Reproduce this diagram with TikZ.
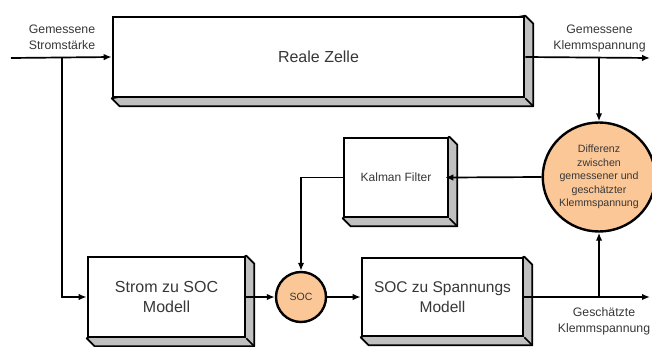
\documentclass[tikz,border=0pt]{standalone}
\usepackage{fontspec}
\setmainfont{Liberation Sans}
\usetikzlibrary{arrows.meta,backgrounds,calc,shapes.geometric}

\definecolor{socorange}{RGB}{251,199,150}
\definecolor{sidegray}{RGB}{192,192,192}
\definecolor{txtgray}{RGB}{55,55,55}

% grey extrusion below and to the right of a block
\newcommand\blockdepth[1]{%
  \filldraw[sidegray,draw=black,line width=1.8pt,line join=round]
    (#1.north east) -- ++(8,8) -- ($(#1.south east)+(8,8)$)
    -- ($(#1.south west)+(8,8)$) -- (#1.south west) -- cycle;
  \draw[line width=1.5pt] (#1.south east) -- ++(8,8);
}

\tikzset{
  blockbox/.style={draw, line width=2.6pt, fill=white, inner sep=0pt,
    align=center, text=txtgray},
  roundnode/.style={draw, line width=2.4pt, fill=socorange, inner sep=0pt,
    align=center, text=txtgray},
  flow/.style={line width=1.7pt, -{Latex[length=8pt,width=6.5pt]}},
  sigtext/.style={align=center, text=txtgray, inner sep=0pt,
    font=\fontsize{12.3}{16}\selectfont},
}

\begin{document}
\begin{tikzpicture}[x=1pt,y=-1pt]
\useasboundingbox (0,0) rectangle (652,347);

% blocks
\node[blockbox, minimum width=411pt, minimum height=80pt,
      font=\fontsize{16}{20}\selectfont] (zelle) at (318.5,57) {Reale Zelle};
\node[blockbox, minimum width=157pt, minimum height=80pt,
      font=\fontsize{16}{20}\selectfont] (strom) at (166.5,297) {Strom zu SOC\\Modell};
\node[blockbox, minimum width=161pt, minimum height=78pt,
      font=\fontsize{15.5}{20}\selectfont] (spann) at (442.5,297) {SOC zu Spannungs\\Modell};
\node[blockbox, minimum width=104pt, minimum height=79pt,
      font=\fontsize{12}{15}\selectfont] (kalman) at (396,177.5) {Kalman Filter};

% round nodes
\node[roundnode, circle, minimum size=50pt,
      font=\fontsize{10.5}{13}\selectfont] (soc) at (301,297) {SOC};
\node[roundnode, ellipse, minimum width=100pt, minimum height=109pt,
      font=\fontsize{10.6}{13.6}\selectfont] (diff) at (599,177)
      {Differenz\\zwischen\\gemessener und\\geschätzter\\Klemmspannung};

\begin{scope}[on background layer]
  \blockdepth{zelle}
  \blockdepth{strom}
  \blockdepth{spann}
  \blockdepth{kalman}
\end{scope}

% free ends and branch points
\coordinate (in)   at (11,58);
\coordinate (brin) at (62,58);
\coordinate (out1) at (650,58);
\coordinate (brm)  at (599,58);
\coordinate (out2) at (650,297);
\coordinate (bre)  at (599,297);

% connectors
\draw[flow] (in) -- (zelle.west);
\draw[flow] (brin) |- (strom.west);
\draw[flow] (zelle.east) -- (out1);
\draw[flow] (brm) -- (diff.north);
\draw[flow] (strom.east) -- (soc.west);
\draw[flow] (soc.east) -- (spann.west);
\draw[flow] (spann.east) -- (out2);
\draw[flow] (bre) -- (diff.south);
\draw[flow, shorten >=-4pt] (diff.west) -- (kalman.east);
\draw[flow] (kalman.west) -| (soc.north);

% signal labels
\node[sigtext] (lblin)  at (62,37)    {Gemessene\\Stromstärke};
\node[sigtext] (lblout) at (599.5,38) {Gemessene\\Klemmspannung};
\node[sigtext] (lblest) at (604,321)  {Geschätzte\\Klemmspannung};
\end{tikzpicture}
\end{document}
